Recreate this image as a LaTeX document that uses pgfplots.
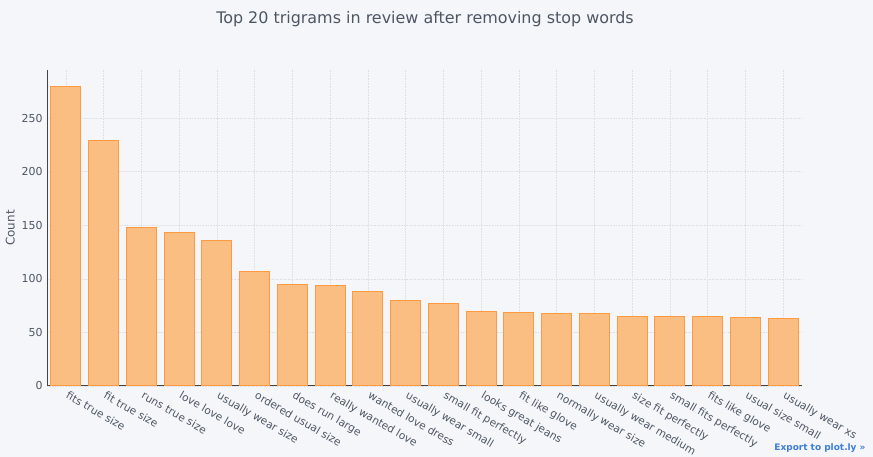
\documentclass[border=0pt]{standalone}
\usepackage{pgfplots}
\pgfplotsset{compat=1.18}
\usepackage{fontspec}
\setmainfont{DejaVu Sans}
\definecolor{bg}{HTML}{F5F6F9}
\definecolor{txt}{HTML}{4D5663}
\definecolor{gridc}{HTML}{DCDFE6}
\definecolor{barline}{HTML}{FF9A40}
\definecolor{barfill}{HTML}{FBBE82}
\definecolor{axisc}{HTML}{444444}
\definecolor{plotly}{HTML}{3D7DDB}
\begin{document}
\begin{tikzpicture}[x=1bp,y=1bp]
\fill[bg] (0,0) rectangle (873,457);
\useasboundingbox (0,0) rectangle (873,457);
\begin{axis}[
  at={(47bp,71bp)}, anchor=south west,
  scale only axis, width=755bp, height=316bp,
  xmin=-0.5, xmax=19.5, ymin=0, ymax=295,
  ybar, bar width=0.8,
  axis lines*=left,
  axis line style={axisc, line width=1pt},
  major tick length=0pt,
  xtick={0,...,19},
  xticklabels={fits true size, fit true size, runs true size, love love love, usually wear size, ordered usual size, does run large, really wanted love, wanted love dress, usually wear small, small fit perfectly, looks great jeans, fit like glove, normally wear size, usually wear medium, size fit perfectly, small fits perfectly, fits like glove, usual size small, usually wear xs},
  ytick={0,50,...,250},
  grid=major,
  major grid style={gridc, line width=0.6pt, densely dotted},
  tick label style={font=\fontsize{11}{13}\selectfont, text=txt},
  x tick label style={font=\fontsize{10.7}{13}\selectfont, rotate=-30, anchor=north west, xshift=2bp, yshift=1bp},
  y tick label style={xshift=-1bp},
  ylabel={Count},
  every axis y label/.style={at={(ticklabel cs:0.5)}, rotate=90, anchor=south, font=\fontsize{12}{14}\selectfont, text=txt},
  /pgf/number format/assume math mode=true,
  clip=false,
]
\addplot[fill=barfill, draw=barline, line width=1pt] coordinates {
(0,280) (1,229) (2,148) (3,143) (4,136) (5,107) (6,95) (7,94) (8,88) (9,80)
(10,77) (11,70) (12,69) (13,68) (14,68) (15,65) (16,65) (17,65) (18,64) (19,63)};
\end{axis}
\node[text=txt, font=\fontsize{16}{18}\selectfont] at (425,438) {Top 20 trigrams in review after removing stop words};
\node[text=plotly, font=\bfseries\fontsize{9}{11}\selectfont, anchor=east] at (869,9) {Export to plot.ly »};
\end{tikzpicture}
\end{document}
